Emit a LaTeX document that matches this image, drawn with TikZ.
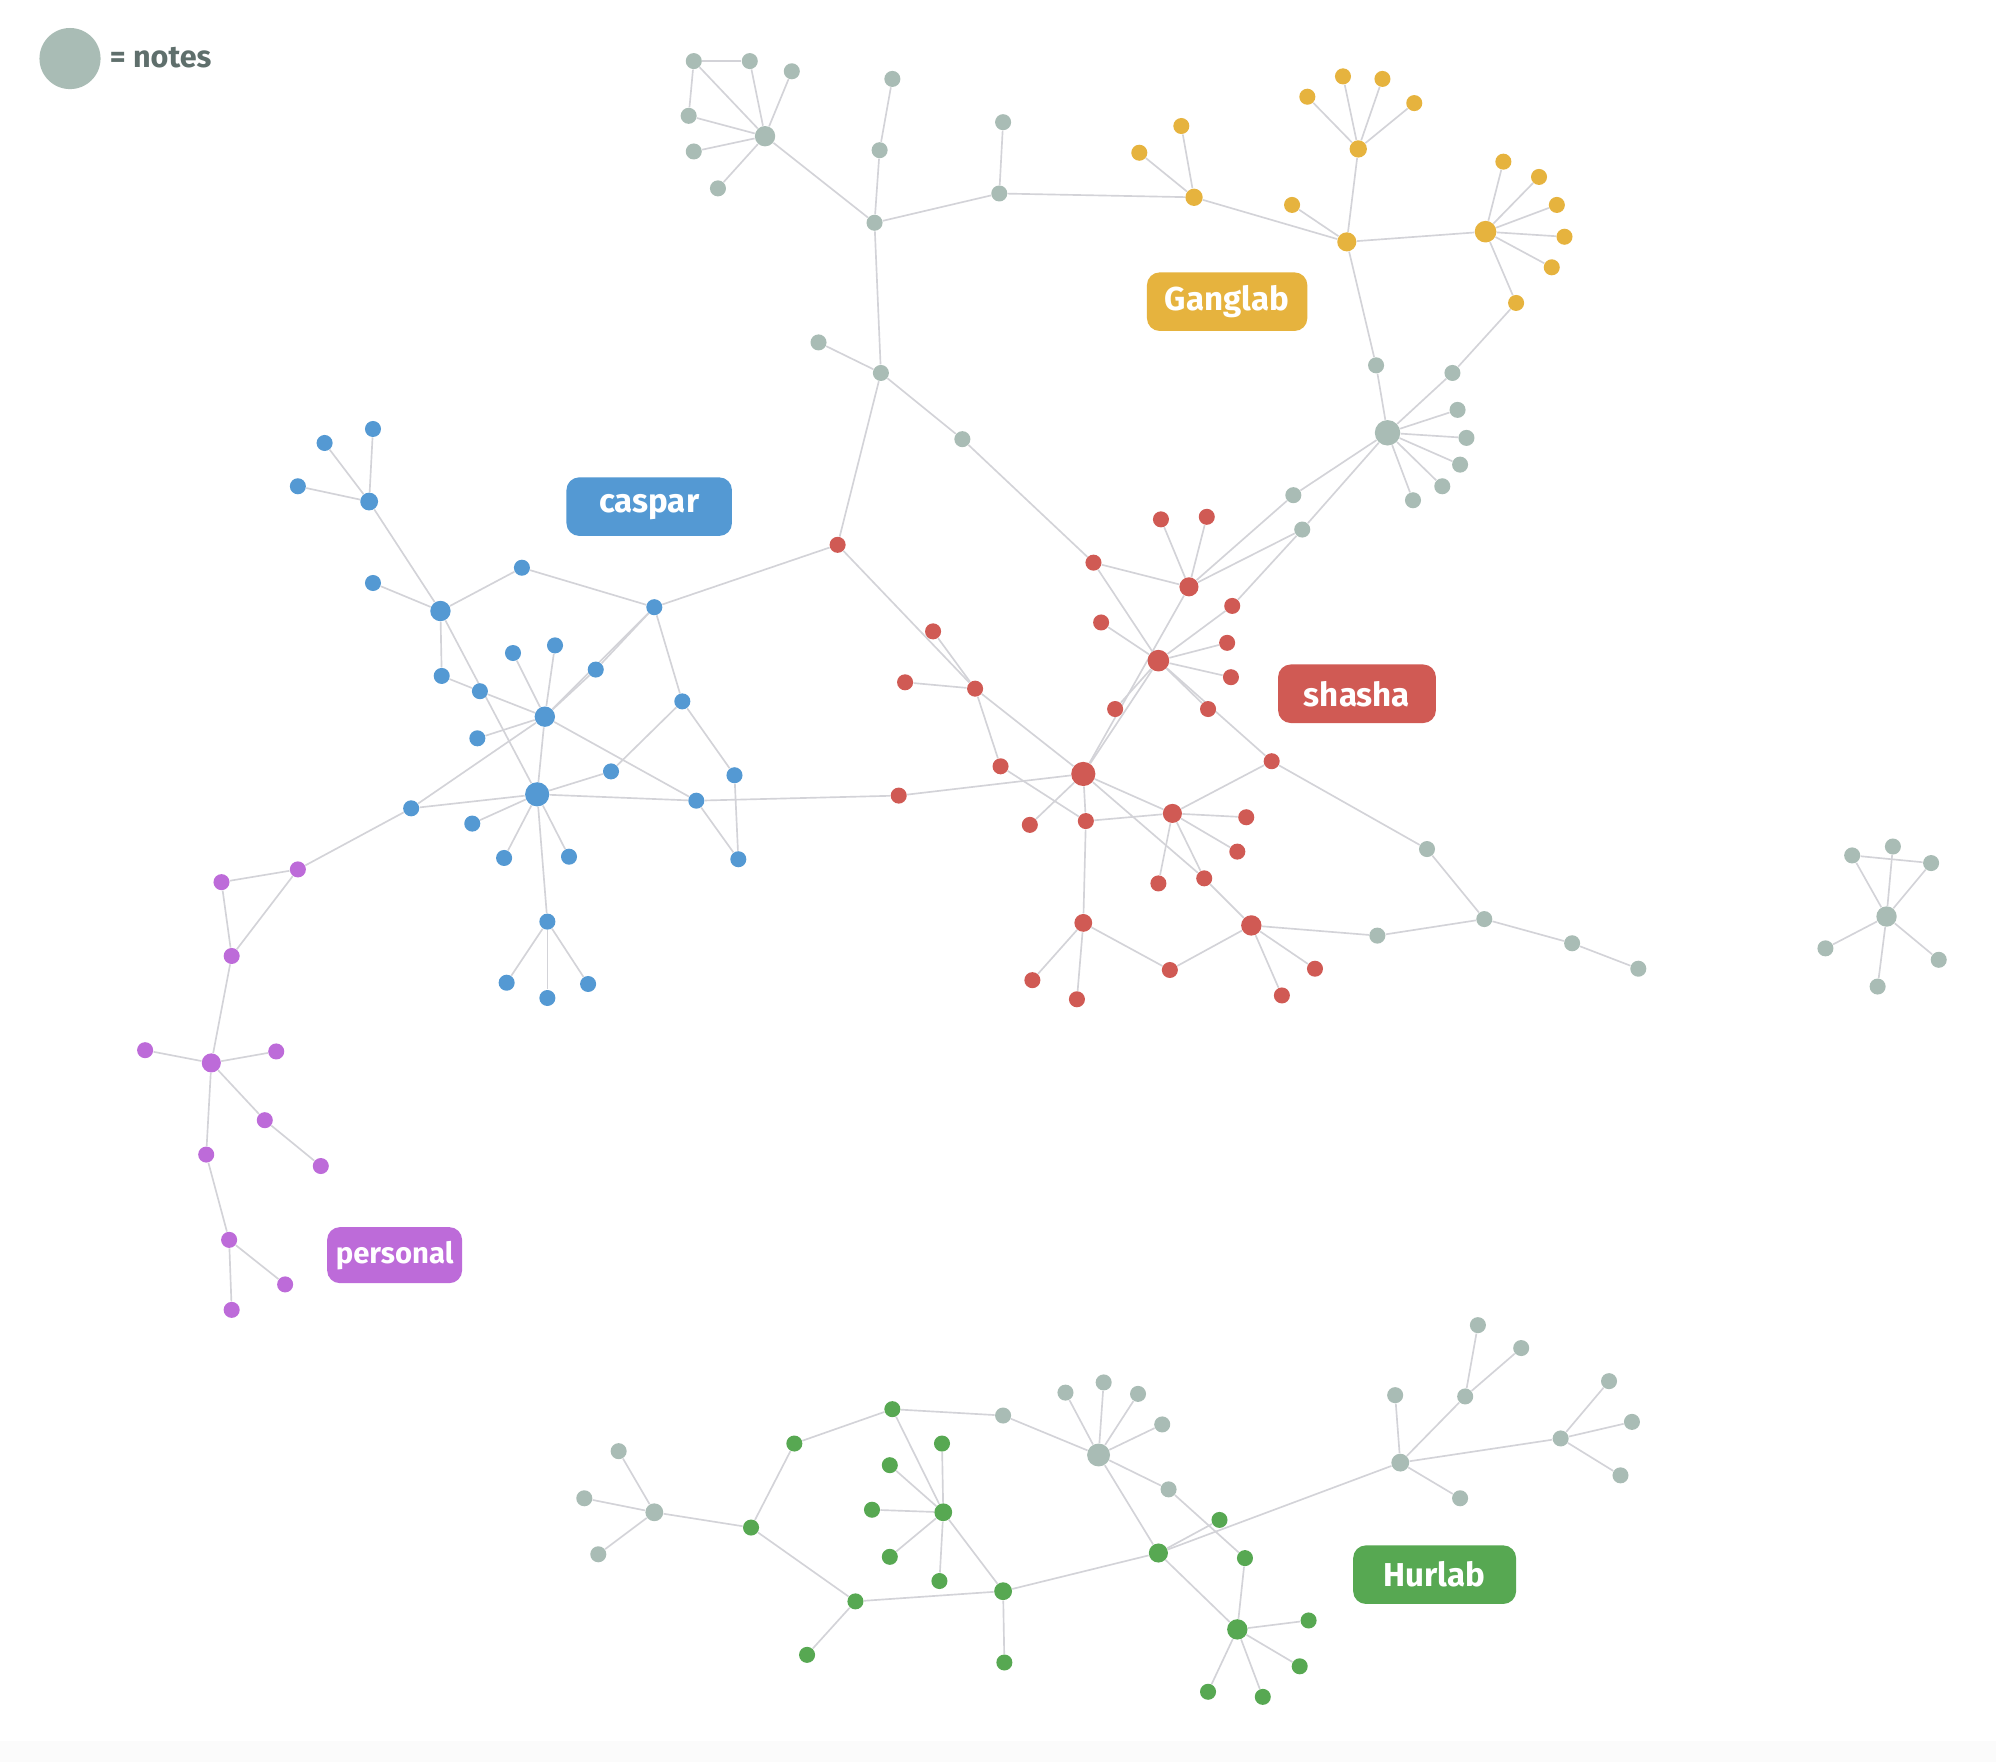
\documentclass[tikz,border=0pt]{standalone}
\usepackage{fontspec}
\setmainfont{Fira Sans}
\usetikzlibrary{backgrounds}
\definecolor{notegray}{HTML}{A9BCB5}
\definecolor{cblue}{HTML}{5499D3}
\definecolor{cred}{HTML}{D05A54}
\definecolor{cyellow}{HTML}{E6B33E}
\definecolor{cpurple}{HTML}{BD6BD9}
\definecolor{cgreen}{HTML}{57A852}
\definecolor{edgecol}{HTML}{D3D3D8}
\definecolor{legtext}{HTML}{5F6F6C}
\tikzset{
  nd/.style={circle, inner sep=0pt, minimum size=#1},
  G/.style={nd=#1, fill=notegray}, G/.default=6.3pt,
  B/.style={nd=#1, fill=cblue}, B/.default=6.3pt,
  R/.style={nd=#1, fill=cred}, R/.default=6.3pt,
  Y/.style={nd=#1, fill=cyellow}, Y/.default=6.3pt,
  P/.style={nd=#1, fill=cpurple}, P/.default=6.3pt,
  N/.style={nd=#1, fill=cgreen}, N/.default=6.3pt,
  edge/.style={draw=edgecol, line width=0.65pt},
  tag/.style={rounded corners=5pt, fill=#1, text=white, font=\fontsize{13}{15}\selectfont\bfseries, minimum height=23pt, inner xsep=6pt}
}
\begin{document}
\begin{tikzpicture}[x=0.5pt, y=-0.5pt]
\useasboundingbox (0,0) rectangle (1568,1384);
% legend
\node[nd=24pt, fill=notegray] (leg) at (55,46) {};
\node[anchor=west, text=legtext, font=\fontsize{12}{14}\selectfont\bfseries, inner sep=1pt] (legt) at (84,45) {= notes};
% top gray cluster
\node[G] (t1) at (545,48) {};
\node[G] (t2) at (589,48) {};
\node[G] (t3) at (622,56) {};
\node[G] (t4) at (541,91) {};
\node[G] (t5) at (545,119) {};
\node[G] (t6) at (564,148) {};
\node[G=8pt] (th) at (601,107) {};
\node[G] (ta) at (687,175) {};
\node[G] (tb) at (691,118) {};
\node[G] (tc) at (701,62) {};
\node[G] (td) at (785,152) {};
\node[G] (te) at (788,96) {};
\node[G] (tf) at (692,293) {};
\node[G] (tg) at (643,269) {};
\node[G] (tm) at (756,345) {};
% yellow
\node[Y=6.8pt] (y1) at (938,155) {};
\node[Y] (y1a) at (895,120) {};
\node[Y] (y1b) at (928,99) {};
\node[Y=7.5pt] (y2) at (1058,190) {};
\node[Y] (y2a) at (1015,161) {};
\node[Y=6.8pt] (y3) at (1067,117) {};
\node[Y] (y3a) at (1027,76) {};
\node[Y] (y3b) at (1055,60) {};
\node[Y] (y3c) at (1086,62) {};
\node[Y] (y3d) at (1111,81) {};
\node[Y=8.5pt] (y4) at (1167,182) {};
\node[Y] (y4a) at (1181,127) {};
\node[Y] (y4b) at (1209,139) {};
\node[Y] (y4c) at (1223,161) {};
\node[Y] (y4d) at (1229,186) {};
\node[Y] (y4e) at (1219,210) {};
\node[Y] (y4f) at (1191,238) {};
% gray hub right
\node[G=10pt] (gh) at (1090,340) {};
\node[G] (gr1) at (1081,287) {};
\node[G] (gr2) at (1141,293) {};
\node[G] (gr3) at (1145,322) {};
\node[G] (gr4) at (1152,344) {};
\node[G] (gr5) at (1147,365) {};
\node[G] (gr6) at (1133,382) {};
\node[G] (gr7) at (1110,393) {};
\node[G] (gr8) at (1016,389) {};
\node[G] (gr9) at (1023,416) {};
% red
\node[R=7.5pt] (r1) at (934,461) {};
\node[R] (r1a) at (912,408) {};
\node[R] (r1b) at (948,406) {};
\node[R] (rA) at (859,442) {};
\node[R=8.5pt] (r2) at (910,519) {};
\node[R] (r2a) at (865,489) {};
\node[R] (r2b) at (968,476) {};
\node[R] (r2c) at (964,505) {};
\node[R] (r2d) at (967,532) {};
\node[R] (r2e) at (949,557) {};
\node[R] (r2f) at (876,557) {};
\node[R=9.5pt] (r3) at (851,608) {};
\node[R] (r0) at (658,428) {};
\node[R] (r4) at (766,541) {};
\node[R] (r4a) at (733,496) {};
\node[R] (r4b) at (711,536) {};
\node[R] (r5) at (786,602) {};
\node[R] (r6) at (706,625) {};
\node[R] (r7) at (809,648) {};
\node[R] (r8) at (853,645) {};
\node[R=7.5pt] (r9) at (921,639) {};
\node[R] (r9a) at (979,642) {};
\node[R] (r9b) at (972,669) {};
\node[R] (r9c) at (910,694) {};
\node[R] (r10) at (946,690) {};
\node[R] (r11) at (999,598) {};
\node[R=7pt] (r12) at (851,725) {};
\node[R] (r12a) at (811,770) {};
\node[R] (r12b) at (846,785) {};
\node[R] (r13) at (919,762) {};
\node[R=8pt] (r14) at (983,727) {};
\node[R] (r14a) at (1007,782) {};
\node[R] (r14b) at (1033,761) {};
\node[G] (q1) at (1121,667) {};
\node[G] (q2) at (1166,722) {};
\node[G] (q3) at (1082,735) {};
\node[G] (q4) at (1235,741) {};
\node[G] (q5) at (1287,761) {};
% blue
\node[B=7pt] (b0) at (290,394) {};
\node[B] (b0a) at (255,348) {};
\node[B] (b0b) at (293,337) {};
\node[B] (b0c) at (234,382) {};
\node[B=8pt] (b1) at (346,480) {};
\node[B] (b1a) at (293,458) {};
\node[B] (b1b) at (410,446) {};
\node[B] (b1c) at (347,531) {};
\node[B] (bx) at (514,477) {};
\node[B] (by) at (536,551) {};
\node[B] (bz) at (577,609) {};
\node[B] (bw) at (580,675) {};
\node[B] (bv) at (547,629) {};
\node[B=8pt] (b2) at (428,563) {};
\node[B] (b2a) at (403,513) {};
\node[B] (b2b) at (436,507) {};
\node[B] (b2c) at (468,526) {};
\node[B] (b2d) at (377,543) {};
\node[B] (b2e) at (375,580) {};
\node[B=9.5pt] (bm) at (422,624) {};
\node[B] (bm1) at (323,635) {};
\node[B] (bm2) at (371,647) {};
\node[B] (bm3) at (396,674) {};
\node[B] (bm4) at (447,673) {};
\node[B] (bm5) at (480,606) {};
\node[B] (b3) at (430,724) {};
\node[B] (b3a) at (398,772) {};
\node[B] (b3b) at (430,784) {};
\node[B] (b3c) at (462,773) {};
% purple
\node[P] (p1) at (234,683) {};
\node[P] (p2) at (174,693) {};
\node[P] (p3) at (182,751) {};
\node[P=7.5pt] (p4) at (166,835) {};
\node[P] (p5) at (114,825) {};
\node[P] (p6) at (217,826) {};
\node[P] (p7) at (208,880) {};
\node[P] (p8) at (252,916) {};
\node[P] (p9) at (162,907) {};
\node[P] (p10) at (180,974) {};
\node[P] (p11) at (224,1009) {};
\node[P] (p12) at (182,1029) {};
% green / Hurlab
\node[G=7pt] (ga) at (514,1188) {};
\node[G] (gaa) at (486,1140) {};
\node[G] (gab) at (459,1177) {};
\node[G] (gac) at (470,1221) {};
\node[N] (g1) at (590,1200) {};
\node[N] (g2) at (624,1134) {};
\node[N] (g3) at (701,1107) {};
\node[N] (g4) at (672,1258) {};
\node[N] (g4a) at (634,1300) {};
\node[N=7pt] (g5) at (741,1188) {};
\node[N] (g5a) at (740,1134) {};
\node[N] (g5b) at (699,1151) {};
\node[N] (g5c) at (685,1186) {};
\node[N] (g5d) at (699,1223) {};
\node[N] (g5e) at (738,1242) {};
\node[N=7pt] (g6) at (788,1250) {};
\node[N] (g6a) at (789,1306) {};
\node[N=7.5pt] (g7) at (910,1220) {};
\node[N] (g8) at (958,1194) {};
\node[N] (g9) at (978,1224) {};
\node[N=8pt] (g10) at (972,1280) {};
\node[N] (g10a) at (1028,1273) {};
\node[N] (g10b) at (1021,1309) {};
\node[N] (g10c) at (992,1333) {};
\node[N] (g10d) at (949,1329) {};
\node[G] (k1) at (788,1112) {};
\node[G=9pt] (kh) at (863,1143) {};
\node[G] (kh1) at (837,1094) {};
\node[G] (kh2) at (867,1086) {};
\node[G] (kh3) at (894,1095) {};
\node[G] (kh4) at (913,1119) {};
\node[G] (kh5) at (918,1170) {};
\node[G=7pt] (m) at (1100,1149) {};
\node[G] (m1) at (1096,1096) {};
\node[G] (m2) at (1151,1097) {};
\node[G] (m2a) at (1161,1041) {};
\node[G] (m2b) at (1195,1059) {};
\node[G] (m3) at (1147,1177) {};
\node[G] (m4) at (1226,1130) {};
\node[G] (m4a) at (1264,1085) {};
\node[G] (m4b) at (1282,1117) {};
\node[G] (m4c) at (1273,1159) {};
% right gray
\node[G=8pt] (h) at (1482,720) {};
\node[G] (h1) at (1455,672) {};
\node[G] (h2) at (1487,665) {};
\node[G] (h3) at (1517,678) {};
\node[G] (h4) at (1434,745) {};
\node[G] (h5) at (1475,775) {};
\node[G] (h6) at (1523,754) {};
% labels
\node[tag=cyellow, minimum width=63pt] (lgang) at (964,237) {Ganglab};
\node[tag=cblue, minimum width=65pt] (lcasp) at (510,398) {caspar};
\node[tag=cred, minimum width=62pt] (lshas) at (1066,545) {shasha};
\node[tag=cpurple, minimum width=53pt, minimum height=22pt, inner xsep=3pt, font=\fontsize{11.5}{14}\selectfont\bfseries] (lpers) at (310,986) {personal};
\node[tag=cgreen, minimum width=64pt] (lhur) at (1127,1237) {Hurlab};
\begin{scope}[on background layer]
\fill[white] (0,0) rectangle (1568,1384);
\fill[black!1.5] (0,1368) rectangle (1568,1384);
\foreach \a/\b in {t1/t2,t1/t4,t1/th,t2/th,t3/th,t4/th,t5/th,t6/th,th/ta,ta/tb,tb/tc,ta/td,td/te,td/y1,ta/tf,tf/tg,tf/tm,tf/r0,tm/rA,
 y1/y1a,y1/y1b,y1/y2,y2/y2a,y2/y3,y3/y3a,y3/y3b,y3/y3c,y3/y3d,y2/y4,y4/y4a,y4/y4b,y4/y4c,y4/y4d,y4/y4e,y4/y4f,y2/gr1,y4f/gr2,
 gh/gr1,gh/gr2,gh/gr3,gh/gr4,gh/gr5,gh/gr6,gh/gr7,gh/gr8,gh/gr9,gr8/r1,gr9/r1,gr9/r2b,
 r1/r1a,r1/r1b,r1/rA,r1/r3,rA/r2,r2/r2a,r2/r2b,r2/r2c,r2/r2d,r2/r2e,r2/r11,r2/r2f,r2/r3,
 r0/r4,r4/r4a,r4/r4b,r4/r3,r4/r5,r5/r8,r8/r9,r3/r8,r8/r12,r3/r6,r6/bv,r3/r7,r3/r9,r3/r10,r9/r9a,r9/r9b,r9/r9c,r9/r10,r9/r11,r10/r14,
 r11/q1,q1/q2,q2/q3,q2/q4,q4/q5,q3/r14,r12/r12a,r12/r12b,r12/r13,r13/r14,r14/r14a,r14/r14b,r0/bx,
 b0/b0a,b0/b0b,b0/b0c,b0/b1,b1/b1a,b1/b1b,b1/b1c,b1/bm,b1b/bx,bx/by,bx/b2c,bx/b2,b2c/b2,b2/b2a,b2/b2b,b1c/b2d,b2d/b2,b2/b2e,b2/bm1,b2/bv,b2/bm,
 bm/bm1,bm/bm2,bm/bm3,bm/bm4,bm/bm5,bm/bv,bm/b3,bm5/by,by/bz,bz/bw,bv/bw,b3/b3a,b3/b3b,b3/b3c,bm1/p1,
 p1/p2,p1/p3,p2/p3,p3/p4,p4/p5,p4/p6,p4/p7,p7/p8,p4/p9,p9/p10,p10/p11,p10/p12,
 ga/gaa,ga/gab,ga/gac,ga/g1,g1/g2,g1/g4,g2/g3,g3/k1,g3/g5,g5/g5a,g5/g5b,g5/g5c,g5/g5d,g5/g5e,g5/g6,g4/g4a,g4/g6,g6/g6a,g6/g7,
 g7/kh,g7/g8,g7/m,g7/g10,kh/k1,kh/kh1,kh/kh2,kh/kh3,kh/kh4,kh/kh5,kh5/g9,g9/g10,g10/g10a,g10/g10b,g10/g10c,g10/g10d,
 m/m1,m/m2,m/m3,m/m4,m2/m2a,m2/m2b,m4/m4a,m4/m4b,m4/m4c,
 h/h1,h/h2,h/h3,h/h4,h/h5,h/h6,h1/h3}
  \draw[edge] (\a) -- (\b);
\end{scope}
\end{tikzpicture}
\end{document}
